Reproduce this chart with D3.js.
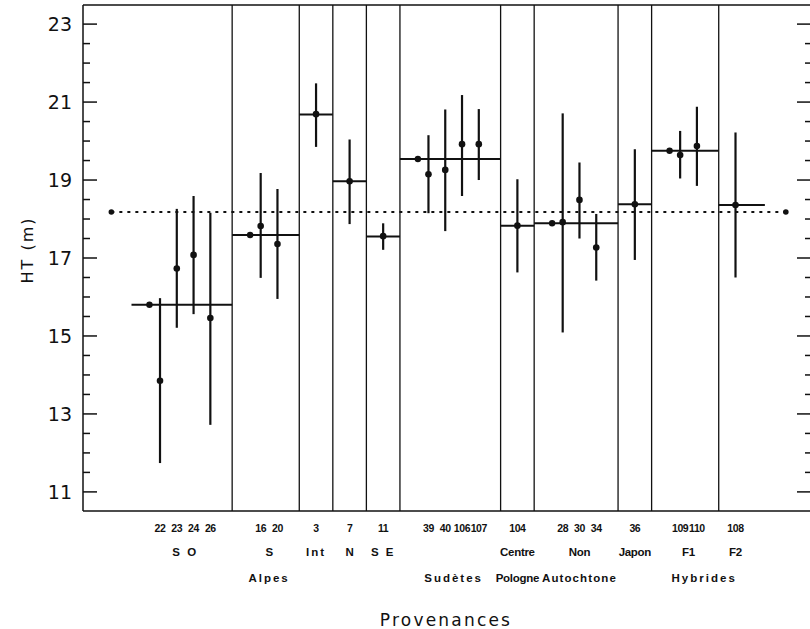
<!DOCTYPE html>
<html>
<head>
<meta charset="utf-8">
<script src="https://cdnjs.cloudflare.com/ajax/libs/d3/7.8.5/d3.min.js"></script>
<style>
  body { margin: 0; background: #fff; }
  svg { display: block; }
  .tick-label { font-family: "DejaVu Sans", sans-serif; font-size: 19px; fill: #111; }
  .axis-title { font-family: "DejaVu Sans", sans-serif; font-size: 16px; fill: #111; letter-spacing: 2px; }
  .cat { font-family: "Liberation Sans", Arial, sans-serif; font-weight: bold; font-size: 11.5px; fill: #111; }
  .num { font-size: 10.5px; letter-spacing: -0.4px; }
</style>
</head>
<body>
<div id="chart"></div>
<script>
// provenances, in plotting order, and the group each belongs to
var provenances = ["22", "23", "24", "26", "16", "20", "3", "7", "11", "39", "40", "106", "107",
                   "104", "28", "30", "34", "36", "109", "110", "108"];
var groupOf = ["SO", "SO", "SO", "SO", "S", "S", "Int", "N", "SE", "Sud", "Sud", "Sud", "Sud",
               "Centre", "Non", "Non", "Non", "Japon", "F1", "F1", "F2"];

// HT (m): provenance mean and interval ends
var htMean = [13.85, 16.73, 17.08, 15.46, 17.82, 17.36, 20.69, 18.97, 17.56, 19.15, 19.26, 19.92, 19.92,
              17.83, 17.92, 18.49, 17.27, 18.38, 19.64, 19.87, 18.36];
var htLow  = [11.74, 15.21, 15.56, 12.72, 16.49, 15.95, 19.85, 17.87, 17.21, 18.15, 17.69, 18.59, 19.00,
              16.63, 15.09, 17.50, 16.42, 16.95, 19.04, 18.85, 16.50];
var htHigh = [15.97, 18.26, 18.59, 18.16, 19.18, 18.77, 21.48, 20.04, 17.89, 20.15, 20.81, 21.18, 20.82,
              19.02, 20.71, 19.45, 18.13, 19.79, 20.26, 20.88, 20.22];

// groups, their means and the two label lines under the axis
var groups = ["SO", "S", "Int", "N", "SE", "Sud", "Centre", "Non", "Japon", "F1", "F2"];
var groupMean = [15.80, 17.59, 20.68, 18.97, 17.55, 19.54, 17.83, 17.89, 18.38, 19.75, 18.36];
var groupLine1 = ["S O", "S", "Int", "N", "S E", "", "Centre", "Non", "Japon", "F1", "F2"];
var groupLine2 = ["", "Alpes", "", "", "", "Sudètes", "Pologne", "Autochtone", "", "", ""];
var hybrides = { label: "Hybrides", groups: ["F1", "F2"] };

// overall mean (dotted line)
var grandMean = 18.18;

// y ticks
var yMajor = [11, 13, 15, 17, 19, 21, 23];
var yMinor = d3.range(11, 23.01, 0.5);

// letter spacing of the group labels
var tightLabels = ["Centre", "Pologne", "Non", "Japon", "F1", "F2", "N", "S"];
var midLabels = ["Autochtone"];

var svgWidth = 810;
var svgHeight = 629;
var margin = { top: 5, right: 0, bottom: 118, left: 83 };
var width = svgWidth - margin.left - margin.right;
var height = svgHeight - margin.top - margin.bottom;

var svg = d3.select("#chart").append("svg")
  .attr("width", svgWidth)
  .attr("height", svgHeight);

var chartGroup = svg.append("g")
  .attr("transform", `translate(${margin.left}, ${margin.top})`);

// slot layout: one slot per provenance, padding around every group
var slots = [];
var bounds = [];
var cursor = -1.7;
groups.forEach(function(g, gi) {
  var idx = groupOf.map((d, i) => d === g ? i : -1).filter(i => i >= 0);
  var n = idx.length;
  var first = cursor + (n > 1 ? 1.7 : 1.0);
  idx.forEach(function(i, k) { slots[i] = first + k; });
  var last = first + n - 1;
  var right = last + (n > 1 ? 1.3 : 1.0);
  if (gi === groups.length - 1) right = last + 1.75;
  bounds.push({ group: g, gi: gi, left: cursor, right: right, first: first, last: last, n: n });
  cursor = right;
});

var xScale = d3.scaleLinear().domain([-4.59, 38.74]).range([0, width]);
var yScale = d3.scaleLinear().domain([10.51, 23.49]).range([height, 0]);

var ink = "#111";

// frame: left axis, top and bottom lines
chartGroup.append("line").attr("x1", 0).attr("x2", width).attr("y1", 0).attr("y2", 0)
  .attr("stroke", ink).attr("stroke-width", 1.5);
chartGroup.append("line").attr("x1", 0).attr("x2", width).attr("y1", height).attr("y2", height)
  .attr("stroke", ink).attr("stroke-width", 1.5);
chartGroup.append("line").attr("x1", 0).attr("x2", 0).attr("y1", 0).attr("y2", height)
  .attr("stroke", ink).attr("stroke-width", 1.5);

// left ticks (inward) and labels
chartGroup.selectAll(".ltick")
  .data(yMinor)
  .enter()
  .append("line")
  .attr("x1", 0)
  .attr("x2", d => yMajor.includes(d) ? 14 : 7)
  .attr("y1", d => yScale(d))
  .attr("y2", d => yScale(d))
  .attr("stroke", ink)
  .attr("stroke-width", 1.5);

chartGroup.selectAll(".tick-label")
  .data(yMajor)
  .enter()
  .append("text")
  .classed("tick-label", true)
  .attr("x", -11)
  .attr("y", d => yScale(d))
  .attr("dy", "0.36em")
  .attr("text-anchor", "end")
  .text(d => d);

// right ticks (inward)
chartGroup.selectAll(".rtick")
  .data(yMinor)
  .enter()
  .append("line")
  .attr("x1", width)
  .attr("x2", d => width - (yMajor.includes(d) ? 13 : 5))
  .attr("y1", d => yScale(d))
  .attr("y2", d => yScale(d))
  .attr("stroke", ink)
  .attr("stroke-width", 1.5);

// group separators
chartGroup.selectAll(".sep")
  .data(bounds.slice(0, -1))
  .enter()
  .append("line")
  .attr("x1", d => xScale(d.right))
  .attr("x2", d => xScale(d.right))
  .attr("y1", 0)
  .attr("y2", height)
  .attr("stroke", ink)
  .attr("stroke-width", 1.3);

// overall mean, dotted
var gmLeft = bounds[0].left - 1.2;
var gmRight = bounds[bounds.length - 1].right + 1.25;
chartGroup.append("line")
  .attr("x1", xScale(gmLeft))
  .attr("x2", xScale(gmRight))
  .attr("y1", yScale(grandMean))
  .attr("y2", yScale(grandMean))
  .attr("stroke", ink)
  .attr("stroke-width", 2)
  .attr("stroke-dasharray", "3,5");
chartGroup.selectAll(".gm-dot")
  .data([gmLeft, gmRight])
  .enter()
  .append("circle")
  .attr("cx", d => xScale(d))
  .attr("cy", yScale(grandMean))
  .attr("r", 2.8)
  .attr("fill", ink);

// group mean lines
chartGroup.selectAll(".gmean")
  .data(bounds)
  .enter()
  .append("line")
  .attr("x1", d => xScale(d.left))
  .attr("x2", d => xScale(d.right))
  .attr("y1", d => yScale(groupMean[d.gi]))
  .attr("y2", d => yScale(groupMean[d.gi]))
  .attr("stroke", ink)
  .attr("stroke-width", 2);

// group mean dots for groups with several provenances
chartGroup.selectAll(".gdot")
  .data(bounds.filter(d => d.n > 1))
  .enter()
  .append("circle")
  .attr("cx", d => xScale(d.first - 0.63))
  .attr("cy", d => yScale(groupMean[d.gi]))
  .attr("r", 3.2)
  .attr("fill", ink);

// provenance intervals and means
chartGroup.selectAll(".bar")
  .data(provenances)
  .enter()
  .append("line")
  .attr("x1", (d, i) => xScale(slots[i]))
  .attr("x2", (d, i) => xScale(slots[i]))
  .attr("y1", (d, i) => yScale(htLow[i]))
  .attr("y2", (d, i) => yScale(htHigh[i]))
  .attr("stroke", ink)
  .attr("stroke-width", 2.2);

chartGroup.selectAll(".pdot")
  .data(provenances)
  .enter()
  .append("circle")
  .attr("cx", (d, i) => xScale(slots[i]))
  .attr("cy", (d, i) => yScale(htMean[i]))
  .attr("r", 3.3)
  .attr("fill", ink);

// category labels under the axis
chartGroup.selectAll(".prov-label")
  .data(provenances)
  .enter()
  .append("text")
  .classed("cat num", true)
  .attr("x", (d, i) => xScale(slots[i]))
  .attr("y", height + 21)
  .attr("text-anchor", "middle")
  .text(d => d);

function groupCenter(b) { return xScale((b.first + b.last) / 2); }
function spacing(t) {
  if (tightLabels.includes(t)) return "-0.3px";
  if (midLabels.includes(t)) return "1.1px";
  return "2px";
}

chartGroup.selectAll(".g1")
  .data(bounds.filter(d => groupLine1[d.gi]))
  .enter()
  .append("text")
  .classed("cat", true)
  .attr("x", groupCenter)
  .attr("y", height + 45)
  .attr("text-anchor", "middle")
  .style("letter-spacing", d => spacing(groupLine1[d.gi]))
  .text(d => groupLine1[d.gi]);

chartGroup.selectAll(".g2")
  .data(bounds.filter(d => groupLine2[d.gi]))
  .enter()
  .append("text")
  .classed("cat", true)
  .attr("x", groupCenter)
  .attr("y", height + 71)
  .attr("text-anchor", "middle")
  .style("letter-spacing", d => spacing(groupLine2[d.gi]))
  .text(d => groupLine2[d.gi]);

// "Hybrides" sits under the F1 and F2 provenances together
var hybIdx = groupOf.map((d, i) => hybrides.groups.includes(d) ? i : -1).filter(i => i >= 0);
chartGroup.append("text")
  .classed("cat", true)
  .attr("x", xScale(d3.mean(hybIdx, i => slots[i])))
  .attr("y", height + 71)
  .attr("text-anchor", "middle")
  .style("letter-spacing", spacing(hybrides.label))
  .text(hybrides.label);

// axis titles
svg.append("text")
  .classed("axis-title", true)
  .attr("transform", "translate(33, 250) rotate(-90)")
  .attr("text-anchor", "middle")
  .text("HT  (m)");

svg.append("text")
  .classed("axis-title", true)
  .attr("x", 446)
  .attr("y", 626)
  .attr("text-anchor", "middle")
  .style("font-size", "17px")
  .style("letter-spacing", "2.2px")
  .text("Provenances");
</script>
</body>
</html>
